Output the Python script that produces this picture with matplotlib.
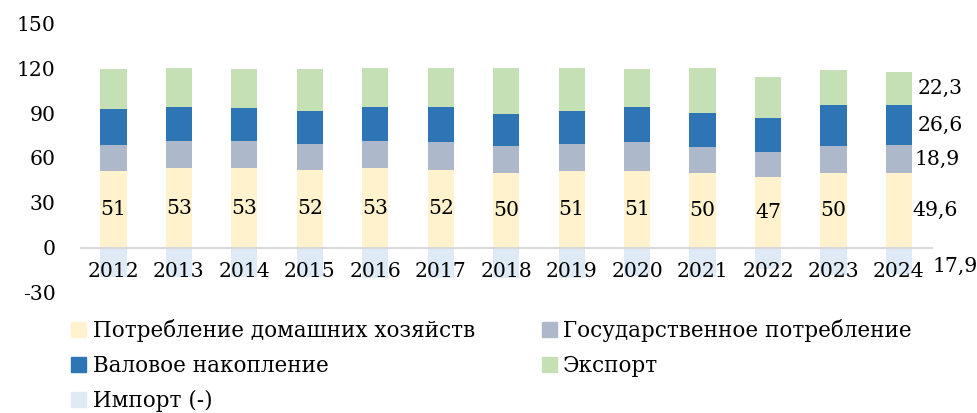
import numpy as np
import matplotlib
matplotlib.use("Agg")
from matplotlib import pyplot as plt
from matplotlib.patches import Patch

years = ["2012", "2013", "2014", "2015", "2016", "2017", "2018",
         "2019", "2020", "2021", "2022", "2023", "2024"]
consumption = [51, 53, 53, 52, 53, 52, 50, 51, 51, 50, 47, 50, 49.6]
government = [17.7, 18.4, 18.1, 17.6, 18.6, 18.5, 17.8, 18.6, 20.0, 17.4, 16.7, 18.3, 18.9]
accumulation = [24.3, 22.9, 22.0, 21.6, 22.7, 23.4, 21.6, 22.0, 23.4, 23.0, 23.0, 27.0, 26.6]
export = [26.5, 25.6, 26.5, 28.3, 26.1, 26.1, 30.8, 28.8, 25.2, 29.8, 27.4, 23.4, 22.3]
imports = [-19.5, -19.7, -19.7, -19.7, -20.2, -20.2, -20.2, -20.2, -19.3, -19.7, -14.2, -18.2, -17.9]

labels = ["Потребление домашних хозяйств", "Государственное потребление",
          "Валовое накопление", "Экспорт", "Импорт (-)"]
colors = ["#FFF2CC", "#ADB9CA", "#2E75B6", "#C5E0B4", "#DEEBF7"]

plt.rcParams["font.family"] = ["DejaVu Serif"]
plt.rcParams["axes.unicode_minus"] = False

fig = plt.figure(figsize=(9.77, 4.13), dpi=100)
ax = fig.add_axes([0.0826, 0.2918, 0.871, 0.6515])

x = np.arange(len(years))
w = 0.40
fs = 14.7
cons = np.array(consumption)
gov = np.array(government)
acc = np.array(accumulation)
exp_ = np.array(export)
imp = np.array(imports)

ax.bar(x, cons, w, color=colors[0], zorder=2)
ax.bar(x, gov, w, bottom=cons, color=colors[1], zorder=2)
ax.bar(x, acc, w, bottom=cons + gov, color=colors[2], zorder=2)
ax.bar(x, exp_, w, bottom=cons + gov + acc, color=colors[3], zorder=2)
ax.bar(x, imp, w, color=colors[4], zorder=1)

# labels inside consumption bars
for i in range(len(years) - 1):
    ax.text(x[i], cons[i] / 2, "%d" % round(cons[i]), ha="center", va="center",
            fontsize=fs, zorder=3)

# 2024 labels on the right
last = len(years) - 1
fmt = lambda v: ("%.1f" % abs(v)).replace(".", ",")
ax.annotate(fmt(cons[last]), (x[last] + w / 2, cons[last] / 2), xytext=(0.5, 0),
            textcoords="offset points", ha="left", va="center", fontsize=fs)
ax.annotate(fmt(gov[last]), (x[last] + w / 2, cons[last] + gov[last] / 2), xytext=(2, 0),
            textcoords="offset points", ha="left", va="center", fontsize=fs)
ax.annotate(fmt(acc[last]), (x[last] + w / 2, cons[last] + gov[last] + acc[last] / 2),
            xytext=(4, 0), textcoords="offset points", ha="left", va="center", fontsize=fs)
ax.annotate(fmt(exp_[last]), (x[last] + w / 2, cons[last] + gov[last] + acc[last] + exp_[last] / 2),
            xytext=(4, 0), textcoords="offset points", ha="left", va="center", fontsize=fs)
ax.annotate(fmt(imp[last]), (x[last] + w / 2, imp[last] * 0.7), xytext=(14.5, 0),
            textcoords="offset points", ha="left", va="center", fontsize=fs,
            annotation_clip=False)

ax.set_xlim(-0.5, len(years) - 0.5)
ax.set_ylim(-30, 150)
ax.set_yticks([-30, 0, 30, 60, 90, 120, 150])
ax.set_xticks(x)
ax.set_xticklabels(years)
ax.tick_params(axis="both", length=0, labelsize=fs)
ax.tick_params(axis="x", pad=10.5)
ax.tick_params(axis="y", pad=18)

for s in ["top", "right", "left"]:
    ax.spines[s].set_visible(False)
ax.spines["bottom"].set_position(("data", 0))
ax.spines["bottom"].set_color("#D9D9D9")
ax.spines["bottom"].set_linewidth(1.5)
ax.spines["bottom"].set_zorder(2.5)

handles = [Patch(color=c) for c in colors]
order = [0, 2, 4, 1, 3]
fig.legend([handles[i] for i in order], [labels[i] for i in order],
           loc="upper left", bbox_to_anchor=(0.073, 0.228), ncol=2, frameon=False,
           fontsize=15.5, handlelength=0.7, handleheight=0.7, handletextpad=0.3,
           columnspacing=3.1, labelspacing=0.6, borderaxespad=0, borderpad=0)

fig.savefig("out.png", dpi=100)
